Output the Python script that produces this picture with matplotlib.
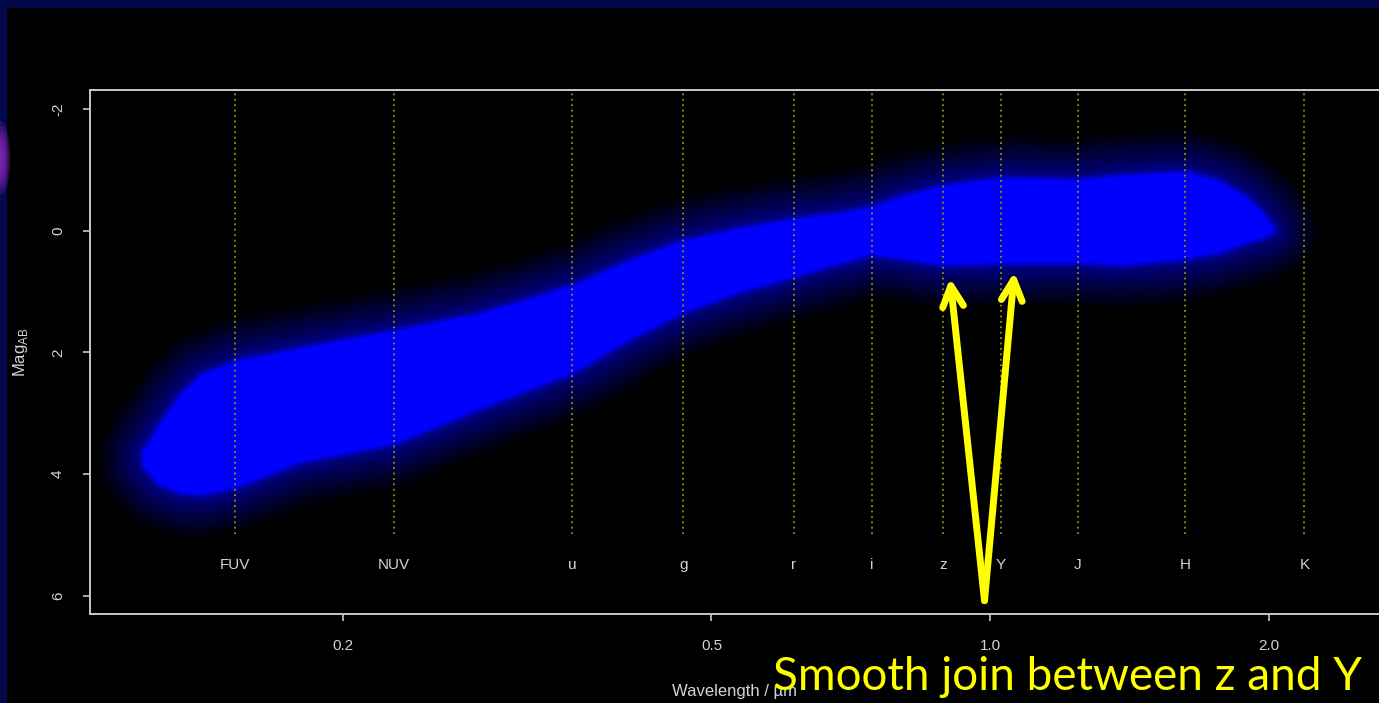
import matplotlib
matplotlib.use('Agg')
import matplotlib.pyplot as plt
import numpy as np
from matplotlib.patches import Rectangle, Ellipse

# outline of the bright band of model spectra (wavelength in micron, AB mag)
band_wl = [0.1217, 0.1263, 0.1334, 0.1404, 0.1529, 0.1797, 0.2271, 0.2812,
           0.3543, 0.4083, 0.4670, 0.5367, 0.6137, 0.6797, 0.7455, 0.7993,
           0.8892, 1.0271, 1.2440, 1.3809, 1.6272, 1.7706, 1.8844, 1.9653,
           2.0199]
band_top = [3.65, 3.25, 2.72, 2.39, 2.16, 1.95, 1.66, 1.38,
            0.92, 0.50, 0.18, -0.02, -0.18, -0.26, -0.37, -0.54,
            -0.72, -0.85, -0.82, -0.89, -0.95, -0.80, -0.55, -0.30,
            -0.05]
band_bot = [3.85, 4.15, 4.30, 4.33, 4.22, 3.80, 3.50, 2.92,
            2.33, 1.78, 1.33, 1.00, 0.75, 0.55, 0.39, 0.45,
            0.56, 0.53, 0.52, 0.56, 0.46, 0.35, 0.20, 0.12,
            0.02]

# filter positions
filt_names = ['FUV', 'NUV', 'u', 'g', 'r', 'i', 'z', 'Y', 'J', 'H', 'K']
filt_wl = [0.1529, 0.2271, 0.3535, 0.4660, 0.6137, 0.7455, 0.8892, 1.0271,
           1.2440, 1.6230, 2.1850]

xticks = [0.2, 0.5, 1.0, 2.0]
xtick_labels = ['0.2', '0.5', '1.0', '2.0']
yticks = [-2, 0, 2, 4, 6]

W, H = 1379, 703
fig = plt.figure(figsize=(W / 100, H / 100), dpi=100, facecolor='black')
ax = fig.add_axes([90 / W, (H - 614) / H, (W - 90) / W, 524 / H])
ax.set_facecolor('black')

ax.set_xscale('log')
ax.set_xlim(0.1066, 2.63)
ax.set_ylim(6.30, -2.31)

# soft halo round the band, then the solid core
px = np.concatenate([band_wl, band_wl[::-1]])
py = np.concatenate([band_top, band_bot[::-1]])
widths = 62 * np.linspace(1, 0.04, 20) ** 2.2
for w in widths:
    ax.fill(px, py, facecolor='none', edgecolor=(0, 0, 1, 0.055),
            lw=w, joinstyle='round', zorder=1)
ax.fill(px, py, facecolor=(0, 0, 0.85), edgecolor=(0, 0, 0.75), lw=5,
        joinstyle='round', zorder=2)
ax.fill(px, py, facecolor=(0, 0, 1), edgecolor='none', zorder=3)

# filter lines and names
grey = '#c8c8c8'
for name, wl in zip(filt_names, filt_wl):
    ax.axvline(wl, ymin=(6.30 - 4.98) / 8.61, ymax=1, color='#9a9200',
               ls=(0, (1, 2.0)), lw=1.3, zorder=4)
    ax.text(wl, 5.5, name, color='#d4d4d4', fontsize=11, ha='center',
            va='center', family='Liberation Sans', zorder=4)

for s in ['left', 'bottom', 'top']:
    ax.spines[s].set_color(grey)
    ax.spines[s].set_linewidth(1.4)
ax.spines['right'].set_visible(False)

ax.set_xticks(xticks)
ax.set_xticklabels(xtick_labels)
ax.xaxis.set_minor_locator(matplotlib.ticker.NullLocator())
ax.set_yticks(yticks)
ax.set_yticklabels([str(v) for v in yticks], rotation=90, va='center')
ax.tick_params(colors=grey, labelcolor='#d4d4d4', length=5, width=1.2,
               pad=13, labelsize=11)
for lab in ax.get_xticklabels() + ax.get_yticklabels():
    lab.set_family('Liberation Sans')

ax.set_xlabel('Wavelength / \u00b5m', color='#d4d4d4', fontsize=12,
              family='Liberation Sans', labelpad=22)
ax.set_ylabel('Mag$_{\\mathregular{AB}}$', color='#d4d4d4', fontsize=12,
              family='Liberation Sans', labelpad=15)

# annotation
tail = (0.986, 6.08)
for tip in [(0.905, 0.78), (1.062, 0.68)]:
    ax.annotate('', xy=tip, xytext=tail, annotation_clip=False,
                arrowprops=dict(arrowstyle='->,head_length=1.5,head_width=0.75',
                                lw=5, color='#ffff00', capstyle='round',
                                shrinkA=0, shrinkB=0), zorder=6)
fig.text(773 / W, 1 - 690 / H, 'Smooth join between z and Y', color='#ffff00',
         fontsize=33, family='Lato', ha='left', va='baseline', zorder=7)

# slide frame
fig.patches.append(Rectangle((0, 1 - 7 / H), 1, 7 / H, transform=fig.transFigure,
                             color='#02084a', zorder=10))
fig.patches.append(Rectangle((0, 0), 6 / W, 1, transform=fig.transFigure,
                             color='#02084a', zorder=10))
for k in range(6):
    fig.patches.append(Ellipse((0, 1 - 158 / H), (6 + 3 * k) / W,
                               (24 + 10 * k) / H, transform=fig.transFigure,
                               color='#9a2cc8', alpha=0.22, lw=0, zorder=11))

fig.savefig('out.png', dpi=100, facecolor='black')
